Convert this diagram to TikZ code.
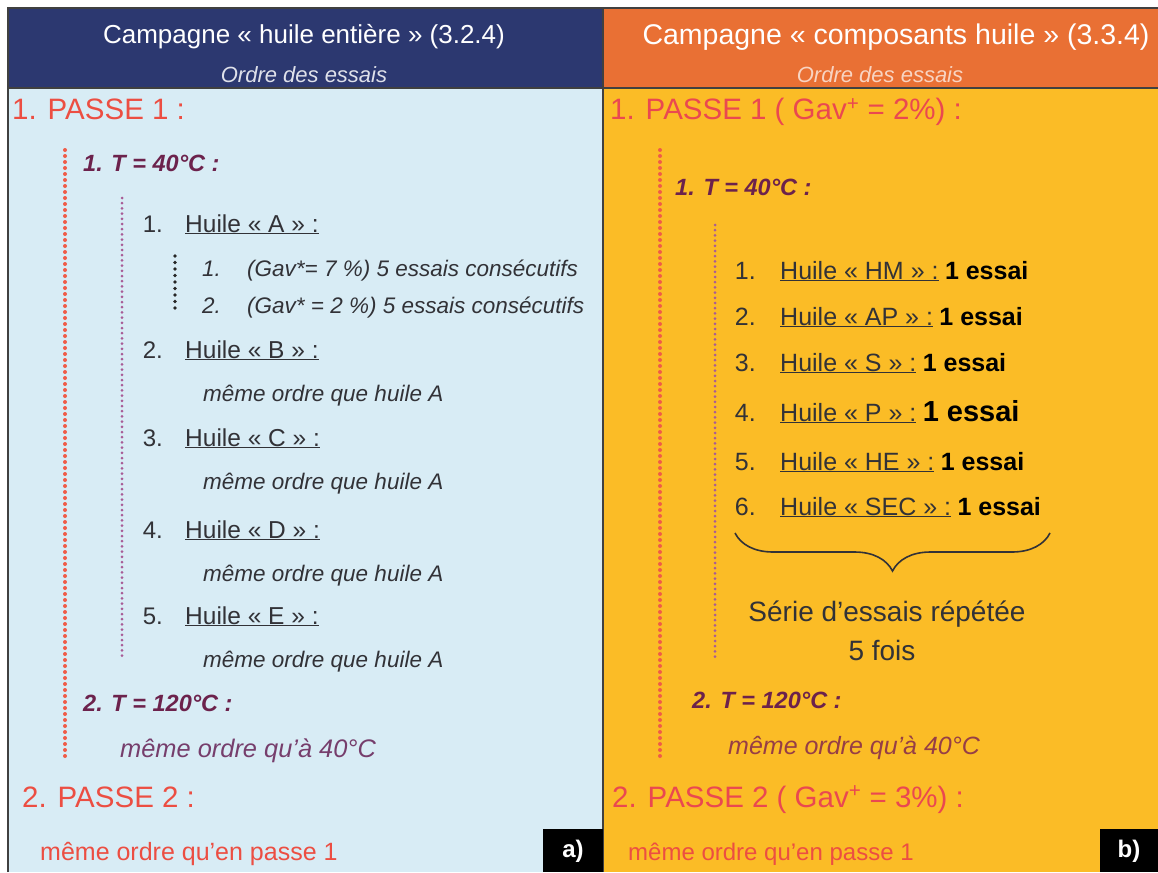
\documentclass[tikz,border=0pt]{standalone}
\usepackage{fontspec}
\setmainfont{Liberation Sans}
\usepackage{tikz}
\usetikzlibrary{positioning, decorations.pathreplacing}
\definecolor{navy}{RGB}{44, 56, 112}
\definecolor{headorange}{RGB}{233, 112, 52}
\definecolor{sky}{RGB}{216, 236, 245}
\definecolor{amber}{RGB}{251, 188, 38}
\definecolor{passered}{RGB}{236, 78, 66}
\definecolor{passepink}{RGB}{234, 72, 80}
\definecolor{tempviolet}{RGB}{108, 34, 76}
\definecolor{noteviolet}{RGB}{118, 62, 108}
\definecolor{notebrown}{RGB}{150, 62, 70}
\definecolor{inkgray}{RGB}{50, 50, 55}
\definecolor{dotred}{RGB}{240, 92, 72}
\definecolor{dotviolet}{RGB}{168, 92, 150}
\newcommand{\fsz}[1]{\fontsize{#1}{#1}\selectfont}

\begin{document}
\begin{tikzpicture}[
      x=1pt, y=-1pt,
      panelrule/.style={draw=black!75, line width=1.2pt},
      titletext/.style={text=white, inner sep=0pt, font=\fsz{26}},
      subtitle/.style={inner sep=0pt, font=\fsz{22}\itshape},
      passe/.style={anchor=base west, inner sep=0pt, font=\fsz{29.5}},
      templine/.style={anchor=base west, inner sep=0pt, text=tempviolet, font=\fsz{23.5}\bfseries\itshape},
      huile/.style={anchor=base west, inner sep=0pt, text=inkgray, font=\fsz{24.5}},
      num/.style={inner sep=0pt, text=inkgray, font=\fsz{24}},
      note/.style={anchor=base west, inner sep=0pt, text=inkgray, font=\fsz{22.5}\itshape},
      essai/.style={inner sep=0pt, text=black, font=\fsz{25}\bfseries},
      serie/.style={inner sep=0pt, text=inkgray, font=\fsz{28}},
      tag/.style={text=white, inner sep=0pt, font=\fsz{24}\bfseries},
      reddots/.style={draw=dotred, line width=4pt, line cap=round, dash pattern=on 0pt off 6pt},
      violetdots/.style={draw=dotviolet, line width=3pt, line cap=round, dash pattern=on 0pt off 5.2pt},
      blackdots/.style={draw=black!85, line width=3.6pt, line cap=round, dash pattern=on 0pt off 6.5pt}
    ]
      \useasboundingbox (0,0) rectangle (1158,872);
      % Panels
      \fill[white] (0,0) rectangle (1158,872);
      \fill[navy] (8,8) rectangle (603,88);
      \fill[headorange] (603,8) rectangle (1158,88);
      \fill[sky] (8,88) rectangle (603,872);
      \fill[amber] (603,88) rectangle (1158,872);
      \draw[panelrule] (8,872) -- (8,8) -- (1158,8);
      \draw[panelrule] (603,8) -- (603,872);
      \draw[panelrule] (8,88) -- (1158,88);

      % Headers
      \node[titletext] (titleA) at (304,37) {Campagne « huile entière » (3.2.4)};
      \node[subtitle, text=white!85!navy] (subA) at (304,75) {Ordre des essais};
      \node[titletext, font=\fsz{28.5}] (titleB) at (896,37) {Campagne « composants huile » (3.3.4)};
      \node[subtitle, text=white!70!headorange] (subB) at (880,75) {Ordre des essais};

      % Left panel
      \node[passe, text=passered] (pa1) at (12,120) {1. PASSE 1 :};
      \node[templine] (ta40) at (83,171) {1. T = 40°C :};
      \node[huile] (hA) at (185,232) {\underline{Huile « A » :}};
      \node[num, base left=22pt of hA] (nA) {1.};
      \node[note] (gav1) at (247,276) {(Gav*= 7 \%) 5 essais consécutifs};
      \node[num, font=\fsz{22.5}\itshape, base left=26pt of gav1] {1.};
      \node[note] (gav2) at (247,313) {(Gav* = 2 \%) 5 essais consécutifs};
      \node[num, font=\fsz{22.5}\itshape, base left=26pt of gav2] {2.};
      \node[huile] (hB) at (185,358) {\underline{Huile « B » :}};
      \node[num, base left=22pt of hB] {2.};
      \node[note] (oB) at (203,401) {même ordre que huile A};
      \node[huile] (hC) at (185,446) {\underline{Huile « C » :}};
      \node[num, base left=22pt of hC] {3.};
      \node[note] (oC) at (203,489) {même ordre que huile A};
      \node[huile] (hD) at (185,538) {\underline{Huile « D » :}};
      \node[num, base left=22pt of hD] {4.};
      \node[note] (oD) at (203,581) {même ordre que huile A};
      \node[huile] (hE) at (185,624) {\underline{Huile « E » :}};
      \node[num, base left=22pt of hE] {5.};
      \node[note] (oE) at (203,667) {même ordre que huile A};
      \node[templine] (ta120) at (83,711) {2. T = 120°C :};
      \node[note, text=noteviolet, font=\fsz{25.4}\itshape] (sa40) at (120,757) {même ordre qu’à 40°C};
      \node[passe, text=passered] (pa2) at (22,807) {2. PASSE 2 :};
      \node[passe, text=passered, font=\fsz{25}] (sp1) at (40,860) {même ordre qu’en passe 1};

      \coordinate (ra1) at (65,150);
      \coordinate (ra2) at (65,760);
      \coordinate (va1) at (122,198);
      \coordinate (va2) at (122,658);
      \coordinate (ka1) at (175,256);
      \coordinate (ka2) at (175,312);
      \draw[reddots] (ra1) -- (ra2);
      \draw[violetdots] (va1) -- (va2);
      \draw[blackdots] (ka1) -- (ka2);

      \fill[black] (543,829) rectangle (603,872);
      \node[tag] (tagA) at (573,851) {a)};

      % Right panel
      \node[passe, text=passepink] (pb1) at (610,120) {1. PASSE 1 ( Gav\textsuperscript{+} = 2\%) :};
      \node[templine] (tb40) at (675,195) {1. T = 40°C :};
      \node[huile, font=\fsz{25}] (hHM) at (780,279) {\underline{Huile « HM » :}};
      \node[num, font=\fsz{25}, base left=24pt of hHM] {1.};
      \node[essai, base right=6pt of hHM] {1 essai};
      \node[huile, font=\fsz{25}] (hAP) at (780,325) {\underline{Huile « AP » :}};
      \node[num, font=\fsz{25}, base left=24pt of hAP] {2.};
      \node[essai, base right=6pt of hAP] {1 essai};
      \node[huile, font=\fsz{25}] (hS) at (780,371) {\underline{Huile « S » :}};
      \node[num, font=\fsz{25}, base left=24pt of hS] {3.};
      \node[essai, base right=6pt of hS] {1 essai};
      \node[huile, font=\fsz{25}] (hP) at (780,421) {\underline{Huile « P » :}};
      \node[num, font=\fsz{25}, base left=24pt of hP] {4.};
      \node[essai, font=\fsz{29}\bfseries, base right=6pt of hP] {1 essai};
      \node[huile, font=\fsz{25}] (hHE) at (780,470) {\underline{Huile « HE » :}};
      \node[num, font=\fsz{25}, base left=24pt of hHE] {5.};
      \node[essai, base right=6pt of hHE] {1 essai};
      \node[huile, font=\fsz{25}] (hSEC) at (780,515) {\underline{Huile « SEC » :}};
      \node[num, font=\fsz{25}, base left=24pt of hSEC] {6.};
      \node[essai, base right=6pt of hSEC] {1 essai};

      \coordinate (bl) at (735,533);
      \coordinate (br) at (1050,533);
      \draw[inkgray, line width=1.6pt, decorate, decoration={brace, mirror, amplitude=38pt, aspect=0.5}] (bl) -- (br);
      \node[serie] (ser1) at (887,614) {Série d’essais répétée};
      \node[serie] (ser2) at (882,650) {5 fois};

      \node[templine] (tb120) at (692,708) {2. T = 120°C :};
      \node[note, text=notebrown, font=\fsz{25}\itshape] (sb40) at (728,754) {même ordre qu’à 40°C};
      \node[passe, text=passepink] (pb2) at (612,807) {2. PASSE 2 ( Gav\textsuperscript{+} = 3\%) :};
      \node[passe, text=passered, font=\fsz{24}] (sq1) at (628,860) {même ordre qu’en passe 1};

      \coordinate (rb1) at (660,150);
      \coordinate (rb2) at (660,760);
      \coordinate (vb1) at (715,225);
      \coordinate (vb2) at (715,660);
      \draw[reddots] (rb1) -- (rb2);
      \draw[violetdots] (vb1) -- (vb2);

      \fill[black] (1100,829) rectangle (1158,872);
      \node[tag] (tagB) at (1129,851) {b)};
    \end{tikzpicture}
\end{document}
